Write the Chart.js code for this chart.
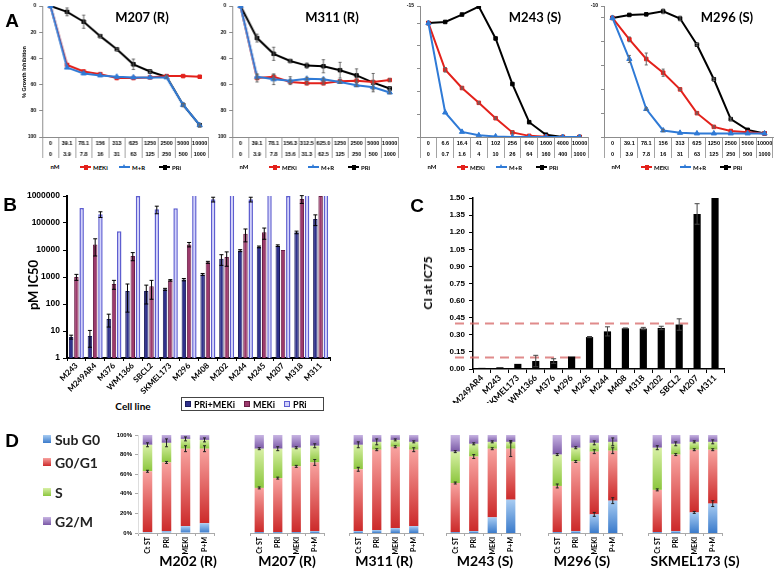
<!DOCTYPE html>
<html>
<head>
<meta charset="utf-8">
<title>MEKi / PRi figure</title>
<script src="https://cdn.jsdelivr.net/npm/chart.js@4.4.0/dist/chart.umd.min.js"></script>
<style>
  html, body { margin: 0; padding: 0; background: #fff; }
  #fig { position: relative; width: 778px; height: 569px; overflow: hidden; }
  #fig canvas { position: absolute; }
  .t { position: absolute; white-space: nowrap; line-height: 1; color: #000; }
  .key { position: absolute; display: flex; align-items: center; height: 8px; font: bold 6px Lato, sans-serif; white-space: nowrap; }
  .kl { position: relative; display: inline-block; width: 11px; height: 2px; margin-right: 2px; }
  .kl i { position: absolute; display: block; }
  .kl .sq { left: 3.5px; top: -1.5px; width: 4px; height: 5px; }
  .kl .tri { left: 3px; top: -2.5px; width: 0; height: 0; border-left: 2.5px solid transparent; border-right: 2.5px solid transparent; }
  #bKey { position: absolute; left: 181px; top: 397px; width: 143px; height: 14px; border: 1px solid #444; display: flex; align-items: center; font: bold 9px Lato, sans-serif; box-sizing: border-box; padding-left: 3px; }
  #bKey span.sw { display: inline-block; width: 6px; height: 6px; margin: 0 3px 0 0; box-sizing: border-box; }
  #bKey span.it { display: flex; align-items: center; margin-right: 9px; }
  .dkey { position: absolute; display: flex; align-items: center; font: bold 14px Lato, sans-serif; color: #222; }
  .dkey span { display: inline-block; width: 8px; height: 8px; margin-right: 4px; }
</style>
</head>
<body>
<div id="fig"></div>
<script>
// ---------- Panel A: % growth inhibition (data table rows under each plot) ----------
const doseRow1 = ['0', '39.1', '78.1', '156', '313', '625', '1250', '2500', '5000', '10000'];
const doseRow2 = ['0', '3.9', '7.8', '16', '31', '63', '125', '250', '500', '1000'];
const m311DoseRow1 = ['0', '39.1', '78.1', '156.3', '312.5', '625.0', '1250', '2500', '5000', '10000'];
const m311DoseRow2 = ['0', '3.9', '7.8', '15.6', '31.3', '62.5', '125', '250', '500', '1000'];
const m243DoseRow1 = ['0', '6.6', '16.4', '41', '102', '256', '640', '1600', '4000', '10000'];
const m243DoseRow2 = ['0', '0.7', '1.6', '4', '10', '26', '64', '160', '400', '1000'];

const m207Meki = [0, 45, 50, 52, 55, 55, 54.5, 53.5, 53.5, 54];
const m207MR = [0, 47, 51.5, 53, 54, 54.5, 54.5, 54.5, 75.5, 91];
const m207Pri = [0, 4.5, 12, 23, 33, 44.5, 50, 54, 75.5, 91];
const m207PriErr = [0, 3, 5, 1, 1, 4, 1, 1, 1, 1];

const m311Meki = [0, 55, 54, 58, 59, 59, 57.5, 57, 58, 56.5];
const m311MR = [0, 54, 56, 57, 55.5, 56, 58, 60.5, 62, 66];
const m311Pri = [0, 24.5, 36.5, 42, 45.5, 46, 49, 53, 58.5, 63];
const m311PriErr = [0, 3, 5, 1, 2, 5, 6, 5, 7, 1];
const m311MekiErr = [0, 3, 2, 1, 1, 1, 1, 1, 1, 1];
const m311MRErr = [0, 2, 4, 3, 1, 1, 1, 1, 2, 1];

const m243Meki = [0, 41, 57, 70, 83.5, 96, 99, 99.7, 100, 100];
const m243MR = [0, 78.5, 95.5, 98.5, 99.5, 100, 100, 100, 100, 100];
const m243Pri = [0, -1, -7.5, -14.5, 13.5, 53.5, 87, 98, 100, 100];
const m243MekiErr = [0, 2, 1, 1, 1, 1, 0, 0, 0, 0];

const m296Meki = [0, 18, 34.5, 46, 60, 80, 91.5, 95, 96, 97];
const m296MR = [0, 34.5, 76.5, 94.5, 96.5, 97, 97, 97, 97, 97];
const m296Pri = [0, -2.5, -3, -5.5, 0.5, 22.5, 51.5, 85, 94, 97];
const m296PriErr = [0, 0, 0, 2, 2, 1, 1, 1, 0, 0];
const m296MekiErr = [0, 2, 5, 3, 1, 1, 1, 0, 0, 0];
const m296MRErr = [0, 3, 1, 1, 0, 0, 0, 0, 0, 0];

// ---------- Panel B: pM IC50 (log) ----------
const bCells = ['M243', 'M249AR4', 'M376', 'WM1366', 'SBCL2', 'SKMEL173', 'M296', 'M408', 'M202', 'M244', 'M245', 'M207', 'M318', 'M311'];
const bPriMeki = [6, 6.5, 28, 300, 300, 350, 800, 1250, 4700, 9500, 13000, 14500, 45000, 140000];
const bMeki = [1000, 16000, 550, 6000, 450, 750, 16000, 3500, 5500, 40000, 45000, 10000, 780000, 1000000];
const bPri = [360000, 210000, 50000, 1000000, 320000, 350000, 5000000, 750000, 5000000, 750000, 5000000, 1000000, 5000000, 5000000];
const bPriMekiErr = [1, 4, 14, 250, 200, 30, 80, 100, 2000, 800, 1000, 1000, 5000, 60000];
const bMekiErr = [250, 10000, 200, 2000, 300, 50, 3000, 300, 3000, 20000, 20000, 0, 250000, 0];
const bPriErr = [0, 50000, 0, 0, 100000, 0, 0, 150000, 0, 150000, 0, 0, 0, 0];
const bTicks = [1, 10, 100, 1000, 10000, 100000, 1000000];

// ---------- Panel C: CI at IC75 ----------
const cCells = ['M249AR4', 'M243', 'SKMEL173', 'WM1366', 'M376', 'M296', 'M245', 'M244', 'M408', 'M318', 'M202', 'SBCL2', 'M207', 'M311'];
const cValues = [0.01, 0.015, 0.045, 0.07, 0.07, 0.11, 0.28, 0.33, 0.357, 0.355, 0.36, 0.39, 1.36, 1.6];
const cErr = [0, 0, 0, 0.05, 0.02, 0, 0.005, 0.04, 0.003, 0.01, 0.015, 0.05, 0.09, 0];
const cTicks = [0, 0.15, 0.3, 0.45, 0.6, 0.75, 0.9, 1.05, 1.2, 1.35, 1.5];
const cThresholds = [0.4, 0.1];
const cThresholdEnds = ['SBCL2', 'M296'];

// ---------- Panel D: cell cycle (% of cells) ----------
const dConditions = ['Ct ST', 'PRI', 'MEKI', 'P+M'];
const m202Sub = [1, 2, 7, 10];
const m202G1 = [62, 70, 79, 76];
const m202S = [27, 20, 10, 9];
const m202G2M = [10, 8, 4, 5];
const m202ErrG1 = [1, 1, 3, 3];
const m202ErrS = [2, 4, 2, 2];

const m207Sub = [1, 1, 1, 2];
const m207G1 = [45, 55, 67, 70];
const m207S = [40, 30, 19, 17];
const m207G2M = [14, 14, 13, 11];
const m207ErrG1 = [1, 1, 1, 3];
const m207ErrS = [1, 2, 1, 2];

const m311Sub = [2, 3, 5, 7];
const m311G1 = [63, 82, 83, 78];
const m311S = [25, 8, 7, 8];
const m311G2M = [10, 7, 5, 7];
const m311ErrG1 = [2, 1, 1, 2];
const m311ErrS = [3, 3, 1, 1];

const m243Sub = [1, 2, 16, 34];
const m243G1 = [50, 76, 70, 52];
const m243S = [32, 13, 7, 7];
const m243G2M = [17, 9, 7, 7];
const m243ErrG1 = [1, 2, 1, 8];
const m243ErrS = [1, 1, 1, 1];

const m296Sub = [1, 2, 19, 33];
const m296G1 = [47, 71, 64, 51];
const m296S = [32, 14, 9, 9];
const m296G2M = [20, 13, 8, 7];
const m296ErrSub = [0, 0, 2, 3];
const m296ErrG1 = [2, 1, 2, 3];
const m296ErrS = [1, 1, 2, 4];

const skmelSub = [1, 2, 21, 30];
const skmelG1 = [43, 78, 64, 55];
const skmelS = [43, 11, 8, 8];
const skmelG2M = [13, 9, 7, 7];
const skmelErrSub = [0, 0, 1, 3];
const skmelErrG1 = [1, 1, 1, 1];
const skmelErrS = [2, 2, 1, 2];

// ---------- helpers ----------
const fig = document.getElementById('fig');
Chart.defaults.font.family = 'Lato';
Chart.defaults.color = '#000';

function addCanvas(left, top, w, h) {
  const c = document.createElement('canvas');
  c.width = w; c.height = h;
  c.style.left = left + 'px'; c.style.top = top + 'px';
  c.style.width = w + 'px'; c.style.height = h + 'px';
  fig.appendChild(c);
  return c;
}

function addText(txt, x, y, size, opts = {}) {
  const d = document.createElement('div');
  d.className = 't';
  d.textContent = txt;
  d.style.left = x + 'px';
  d.style.top = y + 'px';
  d.style.fontSize = size + 'px';
  d.style.fontFamily = opts.family || 'Lato';
  d.style.fontWeight = opts.weight || 'bold';
  d.style.transform = 'translate(-50%,-50%)' + (opts.rotate ? ' rotate(' + opts.rotate + 'deg)' : '');
  fig.appendChild(d);
}

// error bars, drawn from each dataset's `errors` array through the y scale
const errorBars = {
  id: 'errorBars',
  afterDatasetsDraw(chart) {
    const { ctx, chartArea } = chart;
    const y = chart.scales.y;
    const stacked = !!chart.options.scales.y.stacked;
    ctx.save();
    ctx.beginPath();
    ctx.rect(chartArea.left - 3, chartArea.top - 8, chartArea.width + 6, chartArea.height + 8);
    ctx.clip();
    chart.data.datasets.forEach((ds, di) => {
      if (!ds.errors) return;
      const meta = chart.getDatasetMeta(di);
      ctx.strokeStyle = ds.errorColor || '#000';
      ctx.lineWidth = ds.errorWidth || 1;
      const cap = ds.errorCap || 2;
      meta.data.forEach((el, i) => {
        const e = ds.errors[i];
        if (!e) return;
        let v = ds.data[i];
        if (stacked) {
          v = 0;
          for (let j = 0; j <= di; j++) v += chart.data.datasets[j].data[i];
        }
        const yHi = y.getPixelForValue(v + e);
        const yLo = y.getPixelForValue(Math.max(v - e, y.min));
        const x = el.x;
        ctx.beginPath();
        ctx.moveTo(x, yHi); ctx.lineTo(x, yLo);
        ctx.moveTo(x - cap, yHi); ctx.lineTo(x + cap, yHi);
        ctx.moveTo(x - cap, yLo); ctx.lineTo(x + cap, yLo);
        ctx.stroke();
      });
    });
    ctx.restore();
  }
};
Chart.register(errorBars);

const noChrome = { legend: { display: false }, tooltip: { enabled: false } };

// ---------- Panel A charts ----------
function growthChart(left, yW, areaW, row1, row2, meki, mr, pri, errs, yMin, yMax) {
  const w = yW + areaW + 4;
  const canvas = addCanvas(left, 0, w, 160);
  const labels = row1.map((v, i) => [v, row2[i]]);
  const line = (label, data, color, style, radius, err) => ({
    label, data, errors: err, borderColor: color, backgroundColor: color,
    borderWidth: 2, pointStyle: style, pointRadius: radius, pointBorderWidth: 1,
    tension: 0, errorColor: '#666', errorCap: 1.5
  });
  return new Chart(canvas, {
    type: 'line',
    data: {
      labels,
      datasets: [
        line('M+R', mr, '#2F7AD6', 'triangle', 3, errs.mr),
        line('MEKi', meki, '#E3211B', 'rect', 2.5, errs.meki),
        line('PRi', pri, '#000000', 'rect', 2.5, errs.pri)
      ]
    },
    options: {
      responsive: false,
      animation: false,
      layout: { padding: { top: 5, right: 4, left: 0, bottom: 0 } },
      plugins: noChrome,
      scales: {
        x: {
          offset: true,
          afterFit: s => { s.height = 23; },
          grid: { offset: true, drawOnChartArea: false, tickLength: 21, color: '#8c8c8c', lineWidth: 0.8 },
          border: { color: '#8c8c8c', width: 1 },
          ticks: { autoSkip: false, maxRotation: 0, minRotation: 0, padding: -20,
                   font: { size: 5.5, weight: 'bold', family: 'Liberation Sans', lineHeight: 2 } }
        },
        y: {
          reverse: true,
          min: yMin,
          max: yMax,
          afterFit: s => { s.width = yW; },
          ticks: { stepSize: 20, padding: 3,
                   callback: v => ((v - yMin) % 20 === 0 ? String(v) : ''),
                   font: { size: 5, weight: 'bold', family: 'Liberation Sans' } },
          grid: { drawOnChartArea: false, tickLength: 3, color: '#8c8c8c' },
          border: { color: '#8c8c8c', width: 1 }
        }
      }
    }
  });
}

growthChart(0, 42, 166.5, doseRow1, doseRow2, m207Meki, m207MR, m207Pri, { pri: m207PriErr }, 0, 100);
growthChart(190, 42, 166.5, m311DoseRow1, m311DoseRow2, m311Meki, m311MR, m311Pri,
  { pri: m311PriErr, meki: m311MekiErr, mr: m311MRErr }, 0, 100);
growthChart(385, 35, 169, m243DoseRow1, m243DoseRow2, m243Meki, m243MR, m243Pri, { meki: m243MekiErr }, -15, 100);
growthChart(570, 34, 170, doseRow1, doseRow2, m296Meki, m296MR, m296Pri,
  { pri: m296PriErr, meki: m296MekiErr, mr: m296MRErr }, -10, 100);

// ---------- Panel B ----------
new Chart(addCanvas(0, 186, 340, 214), {
  type: 'bar',
  data: {
    labels: bCells,
    datasets: [
      { label: 'PRi+MEKi', data: bPriMeki, errors: bPriMekiErr, backgroundColor: '#2F318B', borderColor: '#1C1D5E', borderWidth: 1, clip: 0 },
      { label: 'MEKi', data: bMeki, errors: bMekiErr, backgroundColor: '#9C3A6C', borderColor: '#6A1E46', borderWidth: 1, clip: 0 },
      { label: 'PRi', data: bPri, errors: bPriErr, backgroundColor: '#D2D2FB', borderColor: '#5E5ED0', borderWidth: 1.5, clip: 0 }
    ]
  },
  options: {
    responsive: false,
    animation: false,
    layout: { padding: { top: 10, right: 10, left: 0, bottom: 0 } },
    plugins: noChrome,
    datasets: { bar: { categoryPercentage: 0.84, barPercentage: 0.85 } },
    scales: {
      x: {
        afterFit: s => { s.height = 42; },
        grid: { offset: true, drawOnChartArea: false, tickLength: 3, color: '#000' },
        border: { color: '#000', width: 2 },
        ticks: { autoSkip: false, minRotation: 45, maxRotation: 45, padding: 0,
                 font: { size: 8, weight: 'bold' } }
      },
      y: {
        type: 'logarithmic',
        min: 1,
        max: 1000000,
        afterFit: s => { s.width = 67; },
        afterBuildTicks: s => { s.ticks = bTicks.map(v => ({ value: v })); },
        ticks: { callback: v => String(v), padding: 3,
                 font: { size: 8.5, weight: 'bold', family: 'Liberation Sans' } },
        grid: { drawOnChartArea: false, tickLength: 4, color: '#000' },
        border: { color: '#000', width: 2 }
      }
    }
  }
});

// ---------- Panel C ----------
const thresholdLines = {
  id: 'thresholdLines',
  beforeDatasetsDraw(chart) {
    const { ctx, chartArea } = chart;
    const x = chart.scales.x, y = chart.scales.y;
    const half = chartArea.width / cCells.length / 2;
    ctx.save();
    ctx.strokeStyle = 'rgba(214, 100, 100, 0.75)';
    ctx.lineWidth = 2;
    ctx.setLineDash([9, 6]);
    cThresholds.forEach((v, i) => {
      const py = y.getPixelForValue(v);
      const xEnd = x.getPixelForValue(cCells.indexOf(cThresholdEnds[i])) + half;
      ctx.beginPath();
      ctx.moveTo(chartArea.left - 18, py);
      ctx.lineTo(xEnd, py);
      ctx.stroke();
    });
    ctx.restore();
  }
};

new Chart(addCanvas(400, 188, 330, 215), {
  type: 'bar',
  data: {
    labels: cCells,
    datasets: [
      { label: 'CI', data: cValues, errors: cErr, backgroundColor: '#000', clip: 0,
        barPercentage: 0.4, categoryPercentage: 1, errorColor: '#444', errorCap: 2.5 }
    ]
  },
  plugins: [thresholdLines],
  options: {
    responsive: false,
    animation: false,
    layout: { padding: { top: 10, right: 6, left: 0, bottom: 0 } },
    plugins: noChrome,
    scales: {
      x: {
        afterFit: s => { s.height = 34; },
        grid: { offset: true, drawOnChartArea: false, tickLength: 4, color: '#000' },
        border: { color: '#000', width: 1.5 },
        ticks: { autoSkip: false, minRotation: 45, maxRotation: 45, padding: 0,
                 font: { size: 8.5, weight: 'bold' } }
      },
      y: {
        min: 0,
        max: 1.5,
        afterFit: s => { s.width = 73; },
        afterBuildTicks: s => { s.ticks = cTicks.map(v => ({ value: v })); },
        ticks: { callback: v => v.toFixed(2), padding: 4,
                 font: { size: 8, weight: 'bold', family: 'Liberation Sans' } },
        grid: { drawOnChartArea: false, tickLength: 4, color: '#000' },
        border: { color: '#000', width: 1.5 }
      }
    }
  }
});

// ---------- Panel D ----------
function gradFill(dark, light) {
  return (c) => {
    const chart = c.chart;
    if (!chart.chartArea || c.type !== 'data') return dark;
    const y = chart.scales.y;
    const ds = chart.data.datasets;
    let start = 0;
    for (let j = 0; j < c.datasetIndex; j++) start += ds[j].data[c.dataIndex];
    const end = start + ds[c.datasetIndex].data[c.dataIndex];
    const g = chart.ctx.createLinearGradient(0, y.getPixelForValue(start), 0, y.getPixelForValue(end));
    g.addColorStop(0, dark);
    g.addColorStop(1, light);
    return g;
  };
}

const phaseColors = [
  ['#3B7BCB', '#A8CCF2'],
  ['#CC2A2A', '#F8A3A0'],
  ['#8CC63E', '#D8F0A6'],
  ['#7A58A6', '#C8B5E3']
];

function cycleChart(areaLeft, withAxis, sub, g1, s, g2m, errSub, errG1, errS) {
  const yW = withAxis ? 38 : 0;
  const areaW = withAxis ? 76 : 74;
  const canvas = addCanvas(areaLeft - yW - 2, 425, yW + areaW + 4, 135);
  const seg = (label, data, k, err) => ({
    label, data, errors: err, backgroundColor: gradFill(phaseColors[k][0], phaseColors[k][1]),
    borderWidth: 0, errorColor: '#222', errorCap: 1.5
  });
  new Chart(canvas, {
    type: 'bar',
    data: {
      labels: dConditions,
      datasets: [
        seg('Sub G0', sub, 0, errSub),
        seg('G0/G1', g1, 1, errG1),
        seg('S', s, 2, errS),
        seg('G2/M', g2m, 3)
      ]
    },
    options: {
      responsive: false,
      animation: false,
      layout: { padding: { top: 10, left: 2, right: 2, bottom: 0 } },
      plugins: noChrome,
      datasets: { bar: { categoryPercentage: 1, barPercentage: 0.5 } },
      scales: {
        x: {
          stacked: true,
          afterFit: sc => { sc.height = 27; },
          grid: { offset: true, drawOnChartArea: false, tickLength: 3, color: '#aaa' },
          border: { color: '#aaa', width: 1 },
          ticks: { autoSkip: false, minRotation: 90, maxRotation: 90, padding: 1,
                   font: { size: 7, weight: 'bold' } }
        },
        y: {
          stacked: true,
          display: withAxis,
          min: 0,
          max: 100,
          afterFit: sc => { sc.width = yW; },
          ticks: { stepSize: 20, padding: 3, callback: v => v + '%',
                   font: { size: 6, weight: 'bold', family: 'Liberation Sans' } },
          grid: { drawOnChartArea: false, tickLength: 3, color: '#aaa' },
          border: { color: '#ddd', width: 1 }
        }
      }
    }
  });
}

cycleChart(138, true, m202Sub, m202G1, m202S, m202G2M, null, m202ErrG1, m202ErrS);
cycleChart(250, false, m207Sub, m207G1, m207S, m207G2M, null, m207ErrG1, m207ErrS);
cycleChart(349, false, m311Sub, m311G1, m311S, m311G2M, null, m311ErrG1, m311ErrS);
cycleChart(446, false, m243Sub, m243G1, m243S, m243G2M, null, m243ErrG1, m243ErrS);
cycleChart(548, false, m296Sub, m296G1, m296S, m296G2M, m296ErrSub, m296ErrG1, m296ErrS);
cycleChart(648, false, skmelSub, skmelG1, skmelS, skmelG2M, skmelErrSub, skmelErrG1, skmelErrS);

// ---------- text ----------
['A', 'B', 'C', 'D'].forEach((p, i) => {
  const pos = [[12, 20], [10, 204], [417, 205], [12, 440]][i];
  addText(p, pos[0], pos[1], 19, { family: 'Liberation Sans' });
});

addText('M207 (R)', 142, 17, 13);
addText('M311 (R)', 332, 17, 13);
addText('M243 (S)', 535, 17, 13);
addText('M296 (S)', 727, 17, 13);
addText('% Growth Inhibition', 25, 72, 5.5, { rotate: -90, family: 'Liberation Sans' });

function keyItem(x, y, color, marker, label) {
  const d = document.createElement('div');
  d.className = 'key';
  d.style.left = x + 'px';
  d.style.top = (y - 4) + 'px';
  const m = marker === 'tri'
    ? '<i class="tri" style="border-bottom:4px solid ' + color + '"></i>'
    : '<i class="sq" style="background:' + color + '"></i>';
  d.innerHTML = '<span class="kl" style="background:' + color + '">' + m + '</span>' + label;
  fig.appendChild(d);
}
[55, 244, 432, 616].forEach(x => {
  addText('nM', x, 167, 6);
  keyItem(x + 25, 167, '#E3211B', 'sq', 'MEKi');
  keyItem(x + 64, 167, '#2F7AD6', 'tri', 'M+R');
  keyItem(x + 104, 167, '#000', 'sq', 'PRi');
});

addText('pM IC50', 33, 285, 13, { rotate: -90 });
addText('Cell line', 133, 406, 10);
const bKey = document.createElement('div');
bKey.id = 'bKey';
bKey.innerHTML =
  '<span class="it"><span class="sw" style="background:#2F318B;border:1px solid #1C1D5E"></span>PRi+MEKi</span>' +
  '<span class="it"><span class="sw" style="background:#9C3A6C;border:1px solid #6A1E46"></span>MEKi</span>' +
  '<span class="it"><span class="sw" style="background:#D2D2FB;border:1px solid #5E5ED0"></span>PRi</span>';
fig.appendChild(bKey);

addText('CI at IC75', 428, 283, 12, { rotate: -90 });

[['M202 (R)', 188], ['M207 (R)', 287], ['M311 (R)', 384], ['M243 (S)', 485], ['M296 (S)', 582], ['SKMEL173 (S)', 695]]
  .forEach(([t, x]) => addText(t, x, 561, 14));

[['Sub G0', 439], ['G0/G1', 462], ['S', 492], ['G2/M', 521]].forEach(([t, y], k) => {
  const d = document.createElement('div');
  d.className = 'dkey';
  d.style.left = '43px';
  d.style.top = (y - 9) + 'px';
  d.style.height = '18px';
  d.innerHTML = '<span style="background:linear-gradient(to top,' + phaseColors[k][0] + ',' + phaseColors[k][1] + ')"></span>' + t;
  fig.appendChild(d);
});
</script>
</body>
</html>
